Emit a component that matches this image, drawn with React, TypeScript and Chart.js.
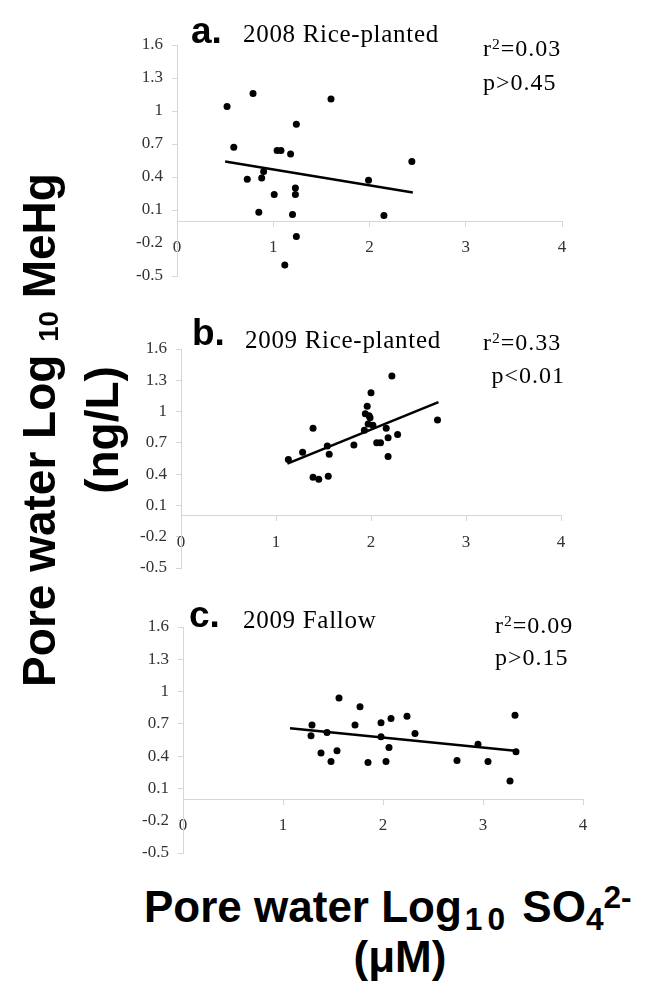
import React, { useEffect, useRef } from "react";
import { Chart, registerables } from "chart.js";
Chart.register(...registerables);

// ---- tick labels ----
const xTickValues = [0, 1, 2, 3, 4];
const yTickValues = [-0.5, -0.2, 0.1, 0.4, 0.7, 1, 1.3, 1.6];

// ---- panel a: 2008 Rice-planted ----
const sulfateA = [0.52, 0.79, 0.59, 0.73, 0.88, 0.9, 0.85, 1.01, 1.04, 1.08, 1.18, 1.24, 1.23, 1.23, 1.2, 1.24, 1.12, 1.6, 1.99, 2.15, 2.44];
const mehgA = [1.04, 1.16, 0.67, 0.38, 0.39, 0.45, 0.08, 0.24, 0.64, 0.64, 0.61, 0.88, 0.3, 0.24, 0.06, -0.14, -0.4, 1.11, 0.37, 0.05, 0.54];
const fitXA = [0.5, 2.45];
const fitYA = [0.54, 0.26];

// ---- panel b: 2009 Rice-planted ----
const sulfateB = [1.13, 1.28, 1.39, 1.39, 1.45, 1.54, 1.56, 1.55, 1.82, 1.94, 1.96, 1.98, 1.99, 2.0, 1.93, 1.97, 2.02, 2.06, 2.1, 2.16, 2.18, 2.18, 2.22, 2.28, 2.7];
const mehgB = [0.54, 0.61, 0.84, 0.37, 0.35, 0.67, 0.59, 0.38, 0.68, 0.98, 1.05, 0.96, 0.94, 1.18, 0.82, 0.88, 0.87, 0.7, 0.7, 0.84, 0.75, 0.57, 1.34, 0.78, 0.92];
const fitXB = [1.12, 2.71];
const fitYB = [0.5, 1.09];

// ---- panel c: 2009 Fallow ----
const sulfateC = [1.28, 1.29, 1.38, 1.44, 1.48, 1.54, 1.56, 1.72, 1.77, 1.85, 1.98, 1.98, 2.03, 2.06, 2.08, 2.24, 2.32, 2.74, 2.95, 3.05, 3.27, 3.32, 3.33];
const mehgC = [0.59, 0.69, 0.43, 0.62, 0.35, 0.45, 0.94, 0.69, 0.86, 0.34, 0.71, 0.58, 0.35, 0.48, 0.75, 0.77, 0.61, 0.36, 0.51, 0.35, 0.17, 0.78, 0.44];
const fitXC = [1.07, 3.32];
const fitYC = [0.66, 0.45];

const SERIF = "'Liberation Serif', 'Times New Roman', serif";
const SANS = "'Liberation Sans', Arial, sans-serif";
const AXIS = "#d6d6d6";
const TICK_COLOR = "#333333";

type Area = { left: number; right: number; top: number; bottom: number };

function Panel({ area, xs, ys, fx, fy }: { area: Area; xs: number[]; ys: number[]; fx: number[]; fy: number[] }) {
  const ref = useRef<HTMLCanvasElement>(null);
  const AX = 80, PT = 20, PR = 20, PB = 24;
  const left = area.left - AX;
  const top = area.top - PT;
  const width = area.right - area.left + AX + PR;
  const height = area.bottom - area.top + PT + PB;
  useEffect(() => {
    const font = { family: SERIF, size: 17 };
    const chart = new Chart(ref.current as HTMLCanvasElement, {
      type: "scatter",
      data: {
        datasets: [
          {
            data: xs.map((x, i) => ({ x, y: ys[i] })),
            pointRadius: 3.5,
            pointBackgroundColor: "#000",
            pointBorderWidth: 0,
            showLine: false,
          },
          {
            data: fx.map((x, i) => ({ x, y: fy[i] })),
            showLine: true,
            pointRadius: 0,
            borderColor: "#000",
            borderWidth: 2.5,
          },
        ],
      },
      options: {
        responsive: false,
        animation: false,
        events: [],
        layout: { autoPadding: false, padding: { top: PT, right: PR, bottom: PB, left: 0 } },
        plugins: { legend: { display: false }, tooltip: { enabled: false } },
        scales: {
          x: {
            type: "linear",
            position: { y: 0 } as any,
            min: 0,
            max: 4,
            afterBuildTicks: (s: any) => {
              s.ticks = xTickValues.map((v) => ({ value: v }));
            },
            afterFit: (s: any) => {
              s.height = 0;
            },
            grid: { drawOnChartArea: false, drawTicks: true, tickLength: 5, color: AXIS },
            border: { display: true, color: AXIS, width: 1 },
            ticks: { font, color: TICK_COLOR, padding: 11, maxRotation: 0, autoSkip: false, callback: (v: any) => String(v) },
          },
          y: {
            type: "linear",
            min: -0.5,
            max: 1.6,
            afterBuildTicks: (s: any) => {
              s.ticks = yTickValues.map((v) => ({ value: v }));
            },
            afterFit: (s: any) => {
              s.width = AX;
            },
            grid: { drawOnChartArea: false, drawTicks: true, tickLength: 5, color: AXIS },
            border: { display: true, color: AXIS, width: 1 },
            ticks: { font, color: TICK_COLOR, padding: 9, autoSkip: false, callback: (v: any) => String(v) },
          },
        },
      } as any,
    });
    return () => chart.destroy();
  }, []);
  return (
    <canvas
      ref={ref}
      width={width}
      height={height}
      style={{ position: "absolute", left, top, width, height }}
    />
  );
}

function Txt({ x, y, size, family, bold, right, spacing, children }: any) {
  const asc = family === SERIF ? 0.8375 : 0.8465;
  const style: any = {
    position: "absolute",
    top: y - asc * size,
    fontSize: size,
    lineHeight: size + "px",
    fontFamily: family,
    fontWeight: bold ? "bold" : "normal",
    whiteSpace: "nowrap",
    color: "#000",
    letterSpacing: spacing || 0,
  };
  if (right !== undefined) style.right = 645 - right;
  else style.left = x;
  return <div style={style}>{children}</div>;
}

const Sup = ({ children, shift = -0.45, scale = 0.65 }: any) => (
  <span style={{ fontSize: scale + "em", position: "relative", top: shift + "em" }}>{children}</span>
);
const Sub = ({ children, shift = 0.3, scale = 0.7, extra = {} }: any) => (
  <span style={{ fontSize: scale + "em", position: "relative", top: shift + "em", ...extra }}>{children}</span>
);

const areaA: Area = { left: 177, right: 562, top: 45, bottom: 276 };
const areaB: Area = { left: 181, right: 561, top: 349, bottom: 568 };
const areaC: Area = { left: 183, right: 583, top: 627, bottom: 853 };

export default function App() {
  return (
    <div style={{ position: "absolute", left: 0, top: 0, width: 645, height: 990, background: "#fff", overflow: "hidden" }}>
      <Panel area={areaA} xs={sulfateA} ys={mehgA} fx={fitXA} fy={fitYA} />
      <Panel area={areaB} xs={sulfateB} ys={mehgB} fx={fitXB} fy={fitYB} />
      <Panel area={areaC} xs={sulfateC} ys={mehgC} fx={fitXC} fy={fitYC} />

      <Txt x={191} y={43} size={37} family={SANS} bold>a.</Txt>
      <Txt x={243} y={42} size={25} family={SERIF} spacing={0.7}>2008 Rice-planted</Txt>
      <Txt x={483} y={56} size={24} family={SERIF} spacing={1}>r<Sup>2</Sup>=0.03</Txt>
      <Txt x={483} y={90} size={24} family={SERIF} spacing={1}>p&gt;0.45</Txt>

      <Txt x={192} y={345} size={37} family={SANS} bold>b.</Txt>
      <Txt x={245} y={348} size={25} family={SERIF} spacing={0.7}>2009 Rice-planted</Txt>
      <Txt x={483} y={350} size={24} family={SERIF} spacing={1}>r<Sup>2</Sup>=0.33</Txt>
      <Txt right={565} y={383} size={24} family={SERIF} spacing={1}>p&lt;0.01</Txt>

      <Txt x={189} y={627} size={37} family={SANS} bold>c.</Txt>
      <Txt x={243} y={628} size={25} family={SERIF} spacing={0.7}>2009 Fallow</Txt>
      <Txt x={495} y={633} size={24} family={SERIF} spacing={1}>r<Sup>2</Sup>=0.09</Txt>
      <Txt x={495} y={665} size={24} family={SERIF} spacing={1}>p&gt;0.15</Txt>

      {/* x-axis title */}
      <Txt x={144} y={922} size={44} family={SANS} bold>
        Pore water Log<Sub scale={0.72} shift={0.25} extra={{ marginLeft: 3, letterSpacing: 5 }}>10</Sub> SO<Sub scale={0.72} shift={0.25}>4</Sub>
        <Sup scale={0.72} shift={-0.42}>2-</Sup>
      </Txt>
      <div
        style={{
          position: "absolute",
          left: 300,
          width: 200,
          top: 972 - 0.8465 * 44,
          fontSize: 44,
          lineHeight: "44px",
          fontFamily: SANS,
          fontWeight: "bold",
          textAlign: "center",
          whiteSpace: "nowrap",
        }}
      >
        (μM)
      </div>

      {/* y-axis title (rotated) */}
      <div
        style={{
          position: "absolute",
          left: 67.5 - 320,
          top: 430 - 57,
          width: 640,
          height: 114,
          transform: "rotate(-90deg)",
          transformOrigin: "50% 50%",
          fontSize: 46,
          lineHeight: "57px",
          fontFamily: SANS,
          fontWeight: "bold",
          textAlign: "center",
          whiteSpace: "nowrap",
          color: "#000",
        }}
      >
        <div>
          Pore water Log <Sub scale={0.6} shift={0.1}>10</Sub> MeHg
        </div>
        <div>(ng/L)</div>
      </div>
    </div>
  );
}
